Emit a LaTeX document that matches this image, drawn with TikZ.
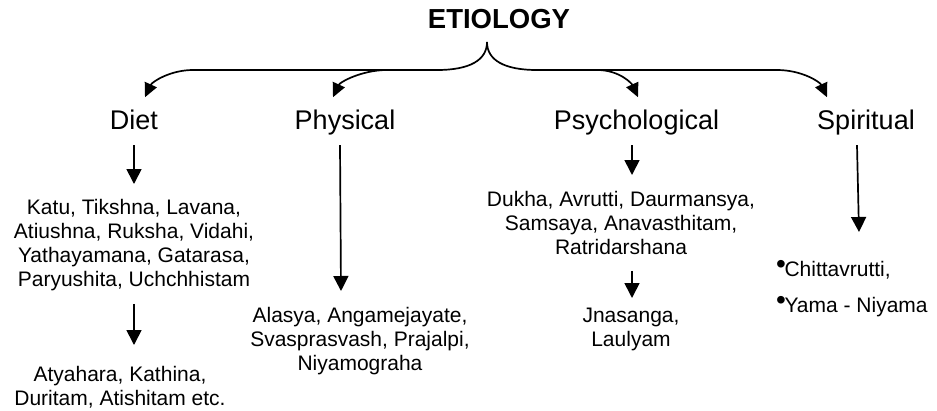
\documentclass[tikz,border=0pt]{standalone}
\usepackage{fontspec}
\setmainfont{Liberation Sans}
\usetikzlibrary{arrows.meta}
\begin{document}
\begin{tikzpicture}[x=1pt,y=-1pt,
  arr/.style={line width=1.7pt,-{Triangle[length=15pt,width=15pt]}},
  barr/.style={line width=1.7pt,-{Triangle[length=14pt,width=13pt]}},
  cat/.style={font=\fontsize{27}{31}\selectfont,inner sep=0pt,anchor=base},
  items/.style={font=\fontsize{21}{24.15}\selectfont,align=center,inner sep=0pt,anchor=north},
  bul/.style={font=\fontsize{21}{24.15}\selectfont,inner sep=0pt,anchor=base west}]
\useasboundingbox (0,0) rectangle (937,410);
% title and categories
\node[font=\bfseries\fontsize{27.5}{31}\selectfont,inner sep=0pt,anchor=base] (etio) at (499,28) {ETIOLOGY};
\node[cat] (diet) at (134,129) {Diet};
\node[cat] (phys) at (345,129) {Physical};
\node[cat] (psych) at (636.5,129) {Psychological};
\node[cat] (spir) at (866,129) {Spiritual};
% items
\node[items] (dietA) at (134,199) {Katu, Tikshna, Lavana,\\Atiushna, Ruksha, Vidahi,\\Yathayamana, Gatarasa,\\Paryushita, Uchchhistam};
\node[items] (dietB) at (120,366) {Atyahara, Kathina,\\Duritam, Atishitam etc.};
\node[items] (physA) at (360,307) {Alasya, Angamejayate,\\Svasprasvash, Prajalpi,\\Niyamograha};
\node[items] (psychA) at (621,191) {Dukha, Avrutti, Daurmansya,\\Samsaya, Anavasthitam,\\Ratridarshana};
\node[items] (psychB) at (631,308) {Jnasanga,\\Laulyam};
\node[bul] (sp1) at (776,276) {\raisebox{2.5pt}{\fontsize{28}{28}\selectfont•}\hspace{-1.5pt}Chittavrutti,};
\node[bul] (sp2) at (776,312) {\raisebox{2.5pt}{\fontsize{28}{28}\selectfont•}\hspace{-1.5pt}Yama - Niyama};
% brace connectors
\coordinate (bt) at ([xshift=-12pt,yshift=-14pt]etio.base);
\coordinate (inDiet) at ([xshift=11pt,yshift=12pt]diet.north);
\coordinate (inPhys) at ([xshift=-12pt,yshift=12pt]phys.north);
\coordinate (inPsych) at ([xshift=1.5pt,yshift=12pt]psych.north);
\coordinate (inSpir) at ([xshift=-39pt,yshift=12pt]spir.north);
\draw[barr] (bt) .. controls ++(0,18) and (470,70) .. (437,70) -- (193,70)
  .. controls (170,70) and (152,82) .. (inDiet);
\draw[barr] (387,70) .. controls (362,70) and (340,82) .. (inPhys);
\draw[barr] (bt) .. controls ++(0,18) and (504,70) .. (537,70) -- (777,70)
  .. controls (802,70) and (820,82) .. (inSpir);
\draw[barr] (597,70) .. controls (620,70) and (632,84) .. (inPsych);
% vertical arrows
\draw[arr] ([yshift=-16pt]diet.south) -- ([yshift=15pt]dietA.north);
\draw[arr] ([yshift=-12.5pt]dietA.south) -- ([xshift=14pt,yshift=21pt]dietB.north);
\draw[arr] ([xshift=-5pt,yshift=-10.3pt]phys.south) -- ([xshift=-19pt,yshift=16pt]physA.north);
\draw[arr] ([xshift=-4.5pt,yshift=-10.3pt]psych.south) -- ([xshift=11pt,yshift=16pt]psychA.north);
\draw[arr] ([xshift=11pt,yshift=-15.7pt]psychA.south) -- ([xshift=1pt,yshift=10pt]psychB.north);
\draw[arr] ([xshift=-9pt,yshift=-10.3pt]spir.south) -- ([xshift=83pt,yshift=44pt]sp1.base west);
\end{tikzpicture}
\end{document}
